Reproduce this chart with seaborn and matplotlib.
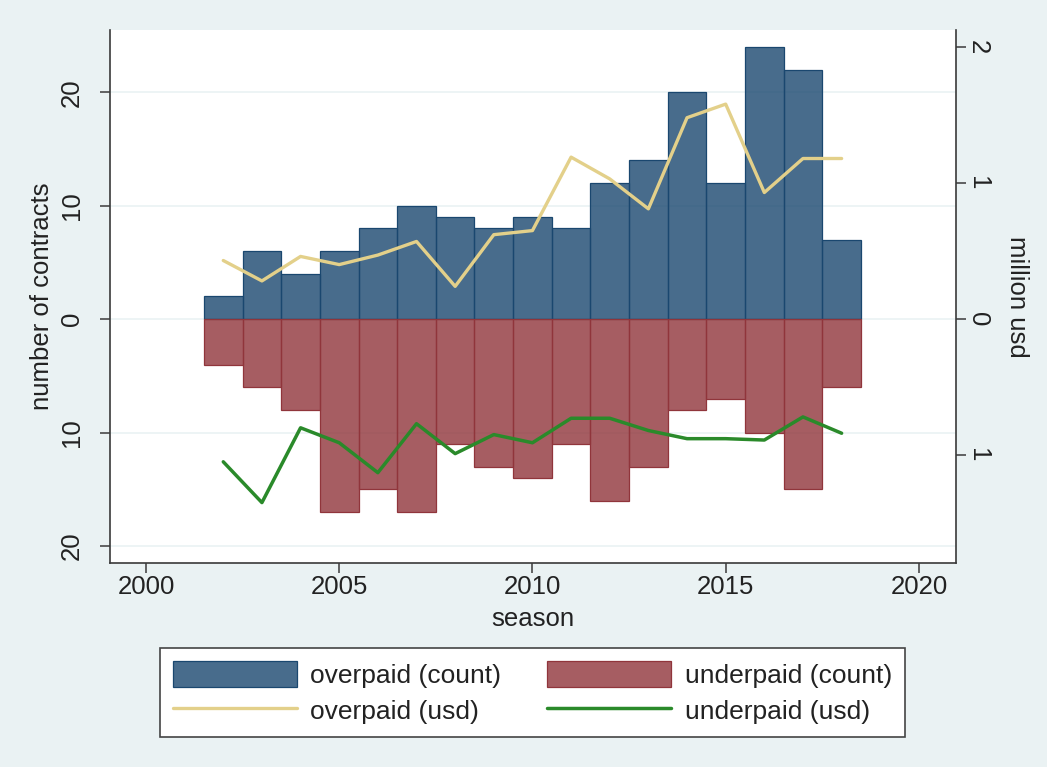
import matplotlib
matplotlib.use("Agg")
import matplotlib.pyplot as plt
import seaborn as sns
import pandas as pd
from matplotlib.patches import Patch
from matplotlib.lines import Line2D
from matplotlib.colors import to_rgba
from matplotlib.ticker import FuncFormatter, FixedLocator

# ---- data -------------------------------------------------------------
seasons = list(range(2002, 2019))
overpaid_count = [2, 6, 4, 6, 8, 10, 9, 8, 9, 8, 12, 14, 20, 12, 24, 22, 7]
underpaid_count = [4, 6, 8, 17, 15, 17, 11, 13, 14, 11, 16, 13, 8, 7, 10, 15, 6]
overpaid_usd = [0.43, 0.28, 0.46, 0.40, 0.47, 0.57, 0.24, 0.62, 0.65,
                1.19, 1.03, 0.81, 1.48, 1.58, 0.93, 1.18, 1.18]
underpaid_usd = [1.05, 1.35, 0.80, 0.91, 1.13, 0.77, 0.99, 0.85, 0.91,
                 0.73, 0.73, 0.82, 0.88, 0.88, 0.89, 0.72, 0.84]

count_ticks = [-20, -10, 0, 10, 20]
usd_ticks = [-1, 0, 1, 2]
year_ticks = [2000, 2005, 2010, 2015, 2020]

# legend entries, listed column by column (two columns)
legend_labels = ["overpaid (count)", "overpaid (usd)",
                 "underpaid (count)", "underpaid (usd)"]

# ---- style ------------------------------------------------------------
sns.set_style("ticks")
plt.rcParams["font.family"] = ["Liberation Sans", "DejaVu Sans"]
plt.rcParams["font.size"] = 18.5

BG = "#EAF2F3"
NAVY = "#1A476F"
MAROON = "#90353B"
KHAKI = "#E3D08A"
GREEN = "#2A8A2A"
AXIS = "#3A3A3A"
TEXT = "#222222"

df = pd.DataFrame({
    "season": seasons,
    "over": overpaid_count,
    "under": [-v for v in underpaid_count],
    "over_usd": overpaid_usd,
    "under_usd": [-v for v in underpaid_usd],
})

fig = plt.figure(figsize=(10.47, 7.67), dpi=100, facecolor=BG)
ax = fig.add_axes([0.1051, 0.2660, 0.8080, 0.6949])
ax.set_facecolor("white")

# mirrored bars: overpaid above zero, underpaid below
sns.barplot(data=df, x="season", y="over", native_scale=True, width=1,
            errorbar=None, saturation=1, color=NAVY, ax=ax, zorder=2)
n_over = len(ax.patches)
sns.barplot(data=df, x="season", y="under", native_scale=True, width=1,
            errorbar=None, saturation=1, color=MAROON, ax=ax, zorder=2)
for i, p in enumerate(ax.patches):
    base = NAVY if i < n_over else MAROON
    p.set_facecolor(to_rgba(base, 0.8))
    p.set_edgecolor(base)
    p.set_linewidth(0.9)

ax.set_xlim(1999.07, 2020.96)
ax.set_ylim(-21.5, 25.5)
ax.yaxis.set_major_locator(FixedLocator(count_ticks))
ax.yaxis.set_major_formatter(FuncFormatter(lambda v, _: f"{abs(v):g}"))
ax.xaxis.set_major_locator(FixedLocator(year_ticks))
ax.xaxis.set_major_formatter(FuncFormatter(lambda v, _: f"{v:g}"))
ax.grid(axis="y", color=BG, linewidth=1.2, zorder=0)
ax.grid(axis="x", visible=False)
ax.set_axisbelow(True)

# salary lines on the secondary axis
ax2 = ax.twinx()
sns.lineplot(data=df, x="season", y="over_usd", color=KHAKI, linewidth=2.4,
             ax=ax2, legend=False)
sns.lineplot(data=df, x="season", y="under_usd", color=GREEN, linewidth=2.5,
             ax=ax2, legend=False)
ax2.set_ylim(-1.794, 2.125)
ax2.yaxis.set_major_locator(FixedLocator(usd_ticks))
ax2.yaxis.set_major_formatter(FuncFormatter(lambda v, _: f"{abs(v):g}"))
ax2.grid(False)

for a in (ax, ax2):
    for s in a.spines.values():
        s.set_color(AXIS)
        s.set_linewidth(1.2)
    a.spines["top"].set_visible(False)
ax.spines["right"].set_visible(False)
ax2.spines["left"].set_visible(False)
ax2.spines["bottom"].set_visible(False)

ax.tick_params(axis="x", length=7, width=1.1, color=AXIS, labelsize=18.5,
               labelcolor=TEXT, pad=2)
ax.tick_params(axis="y", length=7, width=1.1, color=AXIS, labelsize=18.5,
               labelcolor=TEXT, pad=12, labelrotation=90)
for t in ax.get_yticklabels():
    t.set_va("center")
ax2.tick_params(axis="y", length=7, width=1.1, color=AXIS, labelsize=18.5,
                labelcolor=TEXT, pad=0, labelrotation=270)
for t in ax2.get_yticklabels():
    t.set_va("center")

ax.set_xlabel("season", fontsize=18.5, color=TEXT, va="center")
ax.xaxis.set_label_coords(0.5, -0.105)
ax.set_ylabel("number of contracts", fontsize=18.5, color=TEXT, va="center")
ax.yaxis.set_label_coords(-0.0804, 0.5)
ax2.set_ylabel("million usd", fontsize=18.5, color=TEXT, rotation=270,
               va="center")
ax2.yaxis.set_label_coords(1.072, 0.5)

handles = [
    Patch(facecolor=to_rgba(NAVY, 0.8), edgecolor=NAVY, linewidth=0.9),
    Line2D([], [], color=KHAKI, linewidth=2.4),
    Patch(facecolor=to_rgba(MAROON, 0.8), edgecolor=MAROON, linewidth=0.9),
    Line2D([], [], color=GREEN, linewidth=2.5),
]
leg = fig.legend(handles, legend_labels, ncol=2, loc="center",
                 bbox_to_anchor=(0.5086, 0.0971), fontsize=19,
                 frameon=True, fancybox=False, framealpha=1,
                 edgecolor="#444444", facecolor="white",
                 handlelength=4.7, handleheight=1.1, handletextpad=0.5,
                 columnspacing=1.75, labelspacing=0.35, borderpad=0.5)
leg.get_frame().set_linewidth(1.2)
for t in leg.get_texts():
    t.set_color(TEXT)

fig.savefig("out.png", dpi=100, facecolor=BG)
